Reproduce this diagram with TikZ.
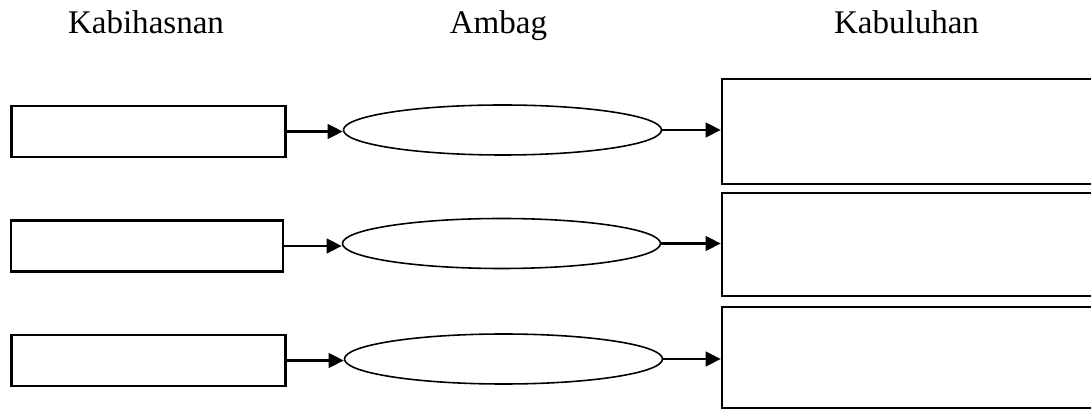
\documentclass[tikz,border=0pt]{standalone}
\usepackage{fontspec}
\setmainfont{Liberation Serif}
\usetikzlibrary{arrows.meta, shapes.geometric}

\tikzset{
  leftbox/.style={draw, line width=0.7pt, inner sep=0pt, minimum width=2.74cm, minimum height=0.51cm},
  rightbox/.style={draw, line width=0.75pt, inner sep=0pt, minimum width=3.78cm},
  ambagoval/.style={draw, ellipse, line width=0.45pt, inner sep=0pt, minimum width=3.18cm, minimum height=0.50cm},
  arr/.style={line width=0.65pt, -{Triangle[length=4.3pt,width=4.2pt]}},
  heading/.style={anchor=base, font=\fontsize{9.4}{11}\selectfont}
}

\begin{document}
\begin{tikzpicture}
\useasboundingbox (0,0) rectangle (10.91,4.10);
\clip (0,0) rectangle (10.91,4.10);
% headings
\node[heading] (hkab) at (1.46,3.76){Kabihasnan};
\node[heading] (hamb) at (4.985,3.76){Ambag};
\node[heading] (hkul) at (9.065,3.76){Kabuluhan};
% left column
\node[leftbox] (l1) at (1.485,2.785){};
\node[leftbox, minimum width=2.72cm] (l2) at (1.47,1.64){};
\node[leftbox] (l3) at (1.485,0.495){};
% middle column
\node[ambagoval] (e1) at (5.025,2.80){};
\node[ambagoval] (e2) at (5.015,1.665){};
\node[ambagoval] (e3) at (5.035,0.51){};
% right column
\node[rightbox, minimum height=1.05cm] (r1) at (9.11,2.785){};
\node[rightbox, minimum height=1.03cm] (r2) at (9.11,1.655){};
\node[rightbox, minimum height=1.01cm] (r3) at (9.11,0.525){};
% arrows
\draw[arr] (l1.east) -- (l1.east -| e1.west);
\draw[arr] (l2.east) -- (l2.east -| e2.west);
\draw[arr] (l3.east) -- (l3.east -| e3.west);
\draw[arr] (e1.east) -- (e1.east -| r1.west);
\draw[arr] (e2.east) -- (e2.east -| r2.west);
\draw[arr] (e3.east) -- (e3.east -| r3.west);
\end{tikzpicture}
\end{document}
